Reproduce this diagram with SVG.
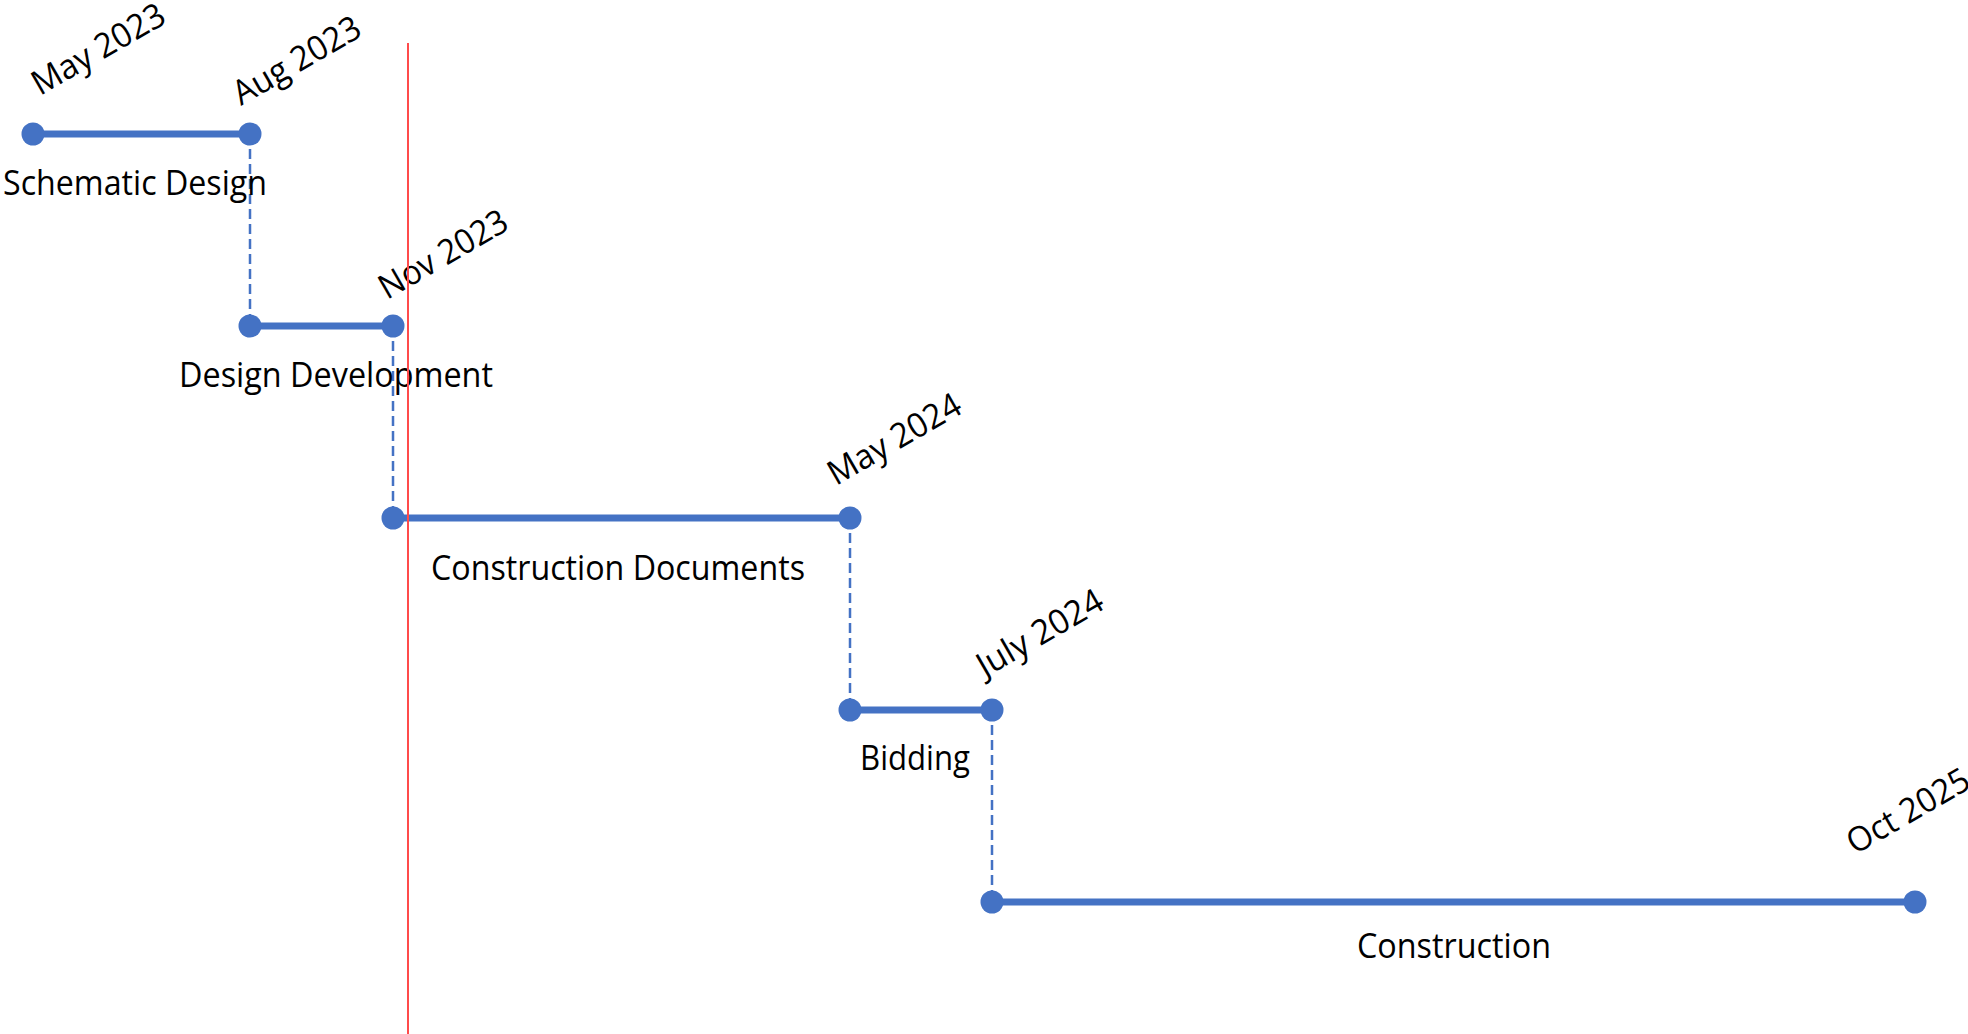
<svg xmlns="http://www.w3.org/2000/svg" width="1968" height="1034" viewBox="0 0 1968 1034">
<style>
.bar{stroke:#4472C4;stroke-width:7;fill:none}
.dot{fill:#4472C4}
.dash{stroke:#4472C4;stroke-width:2.5;stroke-dasharray:10 5;fill:none}
.lbl{font-family:"Open Sans","Liberation Sans",sans-serif;font-size:34px;fill:#000}
.today{stroke:#FF4B4B;stroke-width:2;fill:none}
</style>
<rect width="1968" height="1034" fill="#fff"/>
<g id="connectors">
<line class="dash" x1="250" y1="134" x2="250" y2="326"/>
<line class="dash" x1="393" y1="326" x2="393" y2="518"/>
<line class="dash" x1="850" y1="518" x2="850" y2="710"/>
<line class="dash" x1="992" y1="710" x2="992" y2="902"/>
</g>
<g id="schematic-design">
<line class="bar" x1="33" y1="134" x2="250" y2="134"/>
<circle class="dot" cx="33" cy="134" r="11.5"/>
<circle class="dot" cx="250" cy="134" r="11.5"/>
<text class="lbl" x="3" y="195" textLength="264" lengthAdjust="spacingAndGlyphs">Schematic Design</text>
<text class="lbl" transform="translate(40 96) rotate(-30)" textLength="148" lengthAdjust="spacingAndGlyphs">May 2023</text>
<text class="lbl" transform="translate(241 106) rotate(-30)" textLength="142" lengthAdjust="spacingAndGlyphs">Aug 2023</text>
</g>
<g id="design-development">
<line class="bar" x1="250" y1="326" x2="393" y2="326"/>
<circle class="dot" cx="250" cy="326" r="11.5"/>
<circle class="dot" cx="393" cy="326" r="11.5"/>
<text class="lbl" x="179" y="387" textLength="314" lengthAdjust="spacingAndGlyphs">Design Development</text>
<text class="lbl" transform="translate(387 300) rotate(-30)" textLength="143" lengthAdjust="spacingAndGlyphs">Nov 2023</text>
</g>
<g id="construction-documents">
<line class="bar" x1="393" y1="518" x2="850" y2="518"/>
<circle class="dot" cx="393" cy="518" r="11.5"/>
<circle class="dot" cx="850" cy="518" r="11.5"/>
<text class="lbl" x="431" y="580" textLength="374" lengthAdjust="spacingAndGlyphs">Construction Documents</text>
<text class="lbl" transform="translate(836 486) rotate(-30)" textLength="148" lengthAdjust="spacingAndGlyphs">May 2024</text>
</g>
<g id="bidding">
<line class="bar" x1="850" y1="710" x2="992" y2="710"/>
<circle class="dot" cx="850" cy="710" r="11.5"/>
<circle class="dot" cx="992" cy="710" r="11.5"/>
<text class="lbl" x="860" y="770" textLength="110" lengthAdjust="spacingAndGlyphs">Bidding</text>
<text class="lbl" transform="translate(985 678) rotate(-30)" textLength="140" lengthAdjust="spacingAndGlyphs">July 2024</text>
</g>
<g id="construction">
<line class="bar" x1="992" y1="902" x2="1915" y2="902"/>
<circle class="dot" cx="992" cy="902" r="11.5"/>
<circle class="dot" cx="1915" cy="902" r="11.5"/>
<text class="lbl" x="1357" y="958" textLength="194" lengthAdjust="spacingAndGlyphs">Construction</text>
<text class="lbl" transform="translate(1855 855) rotate(-30)" textLength="136" lengthAdjust="spacingAndGlyphs">Oct 2025</text>
</g>
<g id="today-line">
<line class="today" x1="408" y1="43" x2="408" y2="1034"/>
</g>
</svg>
